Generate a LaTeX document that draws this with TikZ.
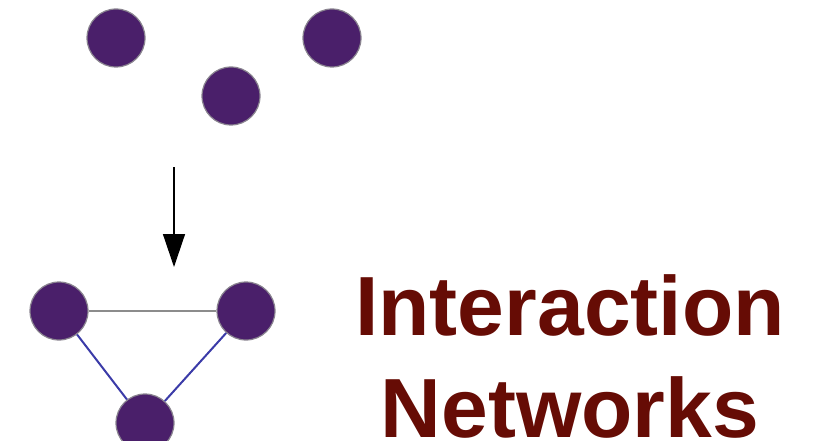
\documentclass[tikz,border=0pt]{standalone}
\usepackage{fontspec}
\setmainfont{Liberation Sans}
\usetikzlibrary{arrows.meta}
\definecolor{dotpurple}{HTML}{4A1F6A}
\definecolor{dotrim}{HTML}{8A8490}
\definecolor{edgeblue}{HTML}{3B3BA8}
\definecolor{edgegray}{HTML}{8C8C8C}
\definecolor{titlered}{HTML}{660C05}
\begin{document}
\begin{tikzpicture}[x=1pt,y=-1pt,
  dot/.style={circle,fill=dotpurple,draw=dotrim,line width=1.2pt,minimum size=58pt,inner sep=0pt},
  grayedge/.style={draw=edgegray,line width=1.4pt},
  blueedge/.style={draw=edgeblue,line width=2pt},
  flowarrow/.style={draw=black,line width=1.4pt,-{Triangle[length=33pt,width=22pt]}}]
\useasboundingbox (0,0) rectangle (813,441);
\clip (0,0) rectangle (813,441);
% top, unconnected nodes
\node[dot] (t1) at (116,38) {};
\node[dot] (t2) at (332,38) {};
\node[dot] (t3) at (231,96) {};
% arrow
\coordinate (astart) at (174,167);
\coordinate (aend) at (174,267);
\draw[flowarrow] (astart) -- (aend);
% bottom network
\node[dot] (b1) at (59,311) {};
\node[dot] (b2) at (246,311) {};
\node[dot] (b3) at (145,423) {};
\draw[grayedge] (b1) -- (b2);
\draw[blueedge] (b1) -- (b3);
\draw[blueedge] (b2) -- (b3);
% title
\node[anchor=north,inner sep=0pt,align=center,text=titlered,text depth=0pt,
      font=\fontsize{84}{102}\selectfont\bfseries] (title) at (570,274)
  {Interaction\\Networks};
\end{tikzpicture}
\end{document}
